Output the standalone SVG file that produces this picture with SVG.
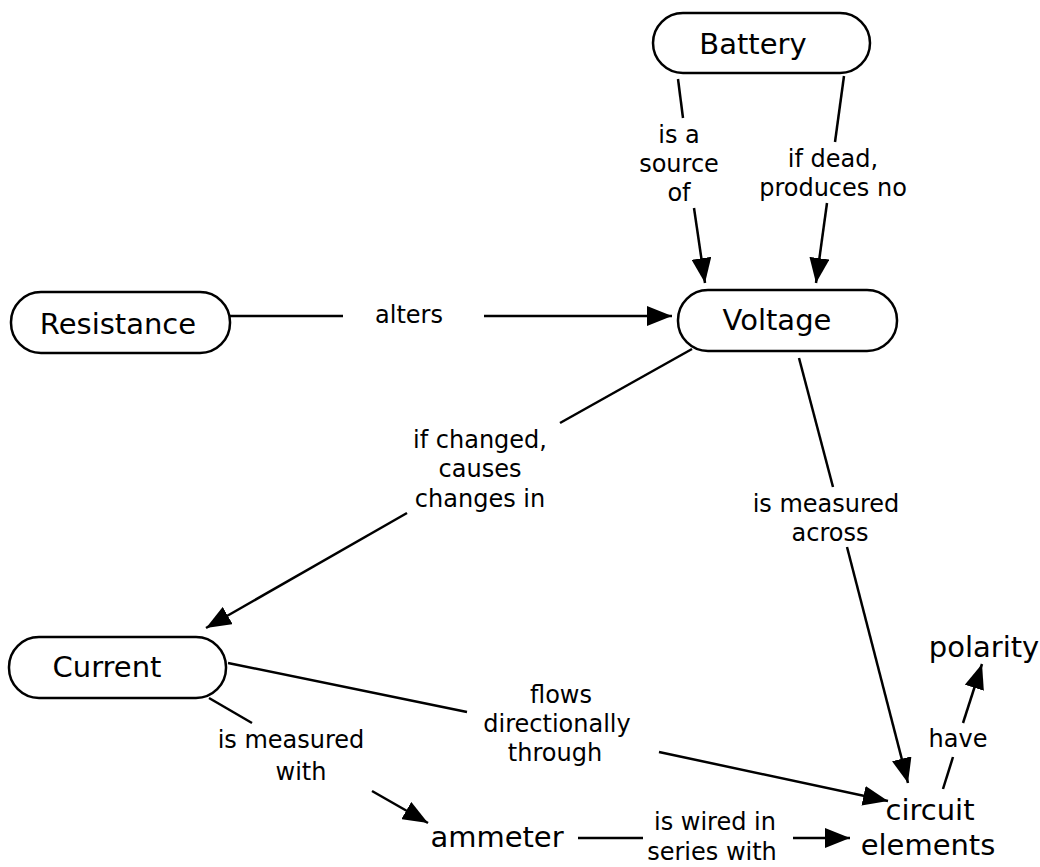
<svg xmlns="http://www.w3.org/2000/svg" width="1040" height="867" viewBox="0 0 1040 867">
<style>
.node rect{fill:#fff;stroke:#000;stroke-width:2.5}
.nt{font-family:"DejaVu Sans","Liberation Sans",sans-serif;font-size:29px;fill:#000;text-anchor:middle}
.lt{font-family:"DejaVu Sans","Liberation Sans",sans-serif;font-size:24px;fill:#000;text-anchor:middle}
.conn line{stroke:#000;stroke-width:2.5;fill:none}
</style>
<defs>
<marker id="ah" markerUnits="userSpaceOnUse" markerWidth="26" markerHeight="20" refX="25" refY="10" orient="auto">
<path d="M0,0 L25,10 L0,20 Z" fill="#000"/>
</marker>
</defs>
<rect width="1040" height="867" fill="#fff"/>
<g id="connectors" class="conn">
<g id="c-battery-voltage-1">
<line x1="678" y1="79" x2="683" y2="118"/>
<line x1="694" y1="208" x2="705" y2="283" marker-end="url(#ah)"/>
<text class="lt" x="679" y="143">is a</text>
<text class="lt" x="679" y="172">source</text>
<text class="lt" x="679" y="201">of</text>
</g>
<g id="c-battery-voltage-2">
<line x1="844" y1="76" x2="835" y2="142"/>
<line x1="827" y1="203" x2="816" y2="283" marker-end="url(#ah)"/>
<text class="lt" x="833" y="167">if dead,</text>
<text class="lt" x="833" y="196">produces no</text>
</g>
<g id="c-resistance-voltage">
<line x1="230" y1="316" x2="343" y2="316"/>
<line x1="484" y1="316" x2="672" y2="316" marker-end="url(#ah)"/>
<text class="lt" x="409" y="323">alters</text>
</g>
<g id="c-voltage-current">
<line x1="692" y1="349" x2="560" y2="423"/>
<line x1="407" y1="513" x2="206" y2="628" marker-end="url(#ah)"/>
<text class="lt" x="480" y="448">if changed,</text>
<text class="lt" x="480" y="477">causes</text>
<text class="lt" x="480" y="507">changes in</text>
</g>
<g id="c-voltage-circuit">
<line x1="799" y1="358" x2="833" y2="487"/>
<line x1="847" y1="547" x2="908" y2="783" marker-end="url(#ah)"/>
<text class="lt" x="826" y="512">is measured</text>
<text class="lt" x="830" y="541">across</text>
</g>
<g id="c-current-circuit">
<line x1="228" y1="663" x2="467" y2="712"/>
<line x1="659" y1="752" x2="888" y2="801" marker-end="url(#ah)"/>
<text class="lt" x="561" y="703">flows</text>
<text class="lt" x="557" y="732">directionally</text>
<text class="lt" x="555" y="761">through</text>
</g>
<g id="c-current-ammeter">
<line x1="209" y1="698" x2="252" y2="723"/>
<line x1="372" y1="791" x2="428" y2="823" marker-end="url(#ah)"/>
<text class="lt" x="291" y="748">is measured</text>
<text class="lt" x="301" y="780">with</text>
</g>
<g id="c-ammeter-circuit">
<line x1="578" y1="838" x2="643" y2="838"/>
<line x1="793" y1="838" x2="850" y2="838" marker-end="url(#ah)"/>
<text class="lt" x="715" y="830">is wired in</text>
<text class="lt" x="712" y="860">series with</text>
</g>
<g id="c-circuit-polarity">
<line x1="943" y1="789" x2="953" y2="757"/>
<line x1="963" y1="723" x2="982" y2="664" marker-end="url(#ah)"/>
<text class="lt" x="958" y="747">have</text>
</g>
</g>
<g id="n-battery" class="node">
<rect x="653" y="13" width="217" height="60" rx="30" ry="30"/>
<text class="nt" x="753" y="54">Battery</text>
</g>
<g id="n-voltage" class="node">
<rect x="678" y="290" width="219" height="61" rx="30" ry="30"/>
<text class="nt" x="777" y="330">Voltage</text>
</g>
<g id="n-resistance" class="node">
<rect x="11" y="292" width="219" height="61" rx="30" ry="30"/>
<text class="nt" x="118" y="334">Resistance</text>
</g>
<g id="n-current" class="node">
<rect x="9" y="637" width="217" height="61" rx="30" ry="30"/>
<text class="nt" x="107" y="677">Current</text>
</g>
<g id="n-ammeter">
<text class="nt" x="497" y="847">ammeter</text>
</g>
<g id="n-circuit">
<text class="nt" x="930" y="820">circuit</text>
<text class="nt" x="928" y="855">elements</text>
</g>
<g id="n-polarity">
<text class="nt" x="984" y="657">polarity</text>
</g>
</svg>
